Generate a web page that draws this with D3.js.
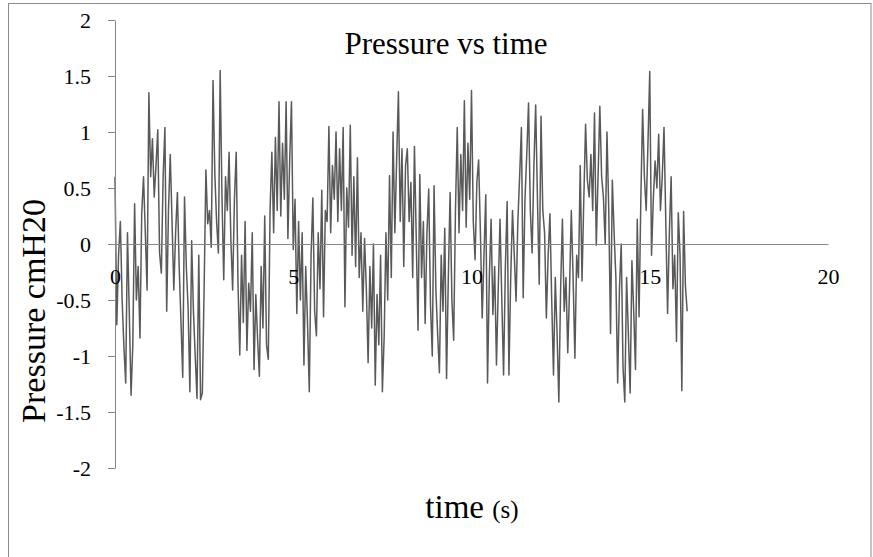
<!DOCTYPE html>
<html><head><meta charset="utf-8">
<script src="https://cdn.jsdelivr.net/npm/d3@7"></script>
<style>
body{margin:0;background:#fff}
svg{display:block}
text{font-family:"Liberation Serif","Times New Roman",Times,"DejaVu Serif",serif;fill:#000}
</style>
</head><body><svg id="c" width="873" height="557"></svg>
<script>
// sampling interval of the recording (s)
const SAMPLE_STEP = 0.05;
// pressure readings (cmH2O), one per sample, starting at t = 0
const pressure = [
  0.60,-0.72,-0.10,0.20,-0.50,-0.92,-1.24,0.10,-0.60,-1.35,-0.90,0.36,-0.50,-0.20,-0.84,0.28,0.60,0.10,-0.41,1.35,
  0.60,0.94,0.42,0.70,1.02,-0.08,-0.26,0.60,1.04,-0.60,0.30,0.80,0.20,-0.41,0.10,0.46,-0.20,-0.69,-1.19,0.42,
  -0.20,-0.56,-1.32,0.03,-0.60,-1.00,-1.38,-0.10,-1.39,-1.33,-0.40,0.66,0.18,0.30,-0.03,1.46,0.63,0.20,-0.08,1.55,
  0.43,-0.32,0.60,0.30,0.82,0.04,-0.41,0.40,0.82,-0.35,-0.99,-0.10,-0.70,0.20,-0.95,-0.35,-0.60,0.10,-1.12,-0.45,
  -0.85,-1.18,-0.20,-0.75,0.25,-0.90,-1.03,0.30,0.82,0.10,0.95,0.30,1.27,0.25,0.90,0.40,1.27,0.05,0.75,1.27,
  -0.05,0.40,-0.62,0.20,-0.50,0.10,-1.08,-0.20,-0.70,-1.32,-0.10,0.41,-0.60,-0.82,0.10,-0.40,0.48,-0.65,0.30,0.20,
  1.05,0.10,0.70,0.40,1.00,0.20,0.85,0.30,1.04,-0.56,0.50,0.15,1.06,-0.10,0.60,-0.20,0.77,-0.30,0.10,-0.60,
  0.05,-0.40,-1.06,-0.20,-0.75,0.00,-1.26,-0.45,-0.90,-0.10,-1.32,-0.83,0.10,-0.50,0.61,-0.30,1.00,0.10,0.75,1.36,
  0.20,0.85,-0.20,0.70,0.85,0.20,0.55,-0.30,0.87,0.05,-0.77,0.62,-0.30,0.20,-0.71,0.10,0.49,-0.55,-1.00,0.52,
  -0.40,-0.80,-1.15,-0.10,-0.60,0.14,-1.20,-0.30,0.46,-0.50,-0.86,0.30,1.04,0.10,0.80,0.30,1.28,0.15,0.90,0.40,
  1.37,0.20,-0.14,0.55,0.75,0.10,-0.66,-0.10,0.44,-1.24,-0.30,0.22,-0.63,-0.20,-1.08,-0.40,0.22,-0.50,-1.17,-0.20,
  0.38,-1.17,-0.30,0.30,-0.10,-0.51,0.20,0.60,1.04,-0.48,0.40,0.80,1.26,0.30,-0.08,0.70,1.24,0.40,-0.36,1.14,
  0.30,0.10,-0.66,-0.10,0.27,-0.50,-1.17,-0.30,-0.80,-1.41,-0.40,0.22,-0.60,-0.30,-0.97,-0.40,0.30,-0.30,-1.02,-0.10,
  -0.30,0.70,-0.33,0.40,1.07,0.57,0.42,0.80,0.30,1.17,-0.01,0.60,1.23,0.60,0.42,0.00,1.00,0.30,-0.80,0.57,
  0.10,-0.30,-1.24,-0.40,0.00,-1.10,-1.41,-0.30,-0.80,-1.33,-0.15,-0.60,-1.12,0.22,-0.65,0.40,1.20,0.60,0.30,0.90,
  1.54,-0.10,0.40,0.74,0.50,0.98,0.30,0.60,1.04,0.20,-0.62,0.10,0.60,-0.40,-0.10,-0.87,0.28,-0.10,-1.31,0.29,
  -0.37,-0.60
];
const xTickValues = [0, 5, 10, 15, 20];
const yTickValues = [-2, -1.5, -1, -0.5, 0, 0.5, 1, 1.5, 2];
const xDomain = [0, 20];
const yDomain = [-2, 2];
const chartTitle = "Pressure vs time";
const xTitle = "time";
const xUnit = "(s)";
const yTitle = "Pressure cmH20";

const svg = d3.select("#c");
const axisColor = "#868686";
const serif = '"Liberation Serif","Times New Roman",Times,"DejaVu Serif",serif';

// outer chart frame
svg.append("rect").attr("x", 8.5).attr("y", 3.5).attr("width", 862.5).attr("height", 600)
  .attr("fill", "none").attr("stroke", "#8c8c8c").attr("stroke-width", 1);

const x = d3.scaleLinear().domain(xDomain).range([115, 828]);
const y = d3.scaleLinear().domain(yDomain).range([468, 20]);

const points = pressure.map((v, i) => ({t: i * SAMPLE_STEP, p: v}));

svg.append("path").datum(points)
  .attr("fill", "none").attr("stroke", "#595959").attr("stroke-width", 1.5)
  .attr("stroke-linejoin", "round")
  .attr("d", d3.line().x(d => x(d.t)).y(d => y(d.p)));

// y axis
const yAxis = svg.append("g").attr("transform", `translate(${x(0)},0)`)
  .call(d3.axisLeft(y).tickValues(yTickValues).tickSize(7).tickSizeOuter(0)
    .tickPadding(17).tickFormat(d => String(d)));
yAxis.attr("font-family", serif);
yAxis.selectAll("path,line").attr("stroke", axisColor);
yAxis.selectAll("text").attr("font-size", 22).attr("fill", "#000");

// x axis through zero
const xAxis = svg.append("g").attr("transform", `translate(0,${y(0)})`)
  .call(d3.axisBottom(x).tickValues(xTickValues).tickSize(0).tickSizeOuter(0)
    .tickPadding(24).tickFormat(d => String(d)));
xAxis.attr("font-family", serif);
xAxis.selectAll("path,line").attr("stroke", axisColor);
xAxis.selectAll("text").attr("font-size", 22).attr("fill", "#000");

// titles
svg.append("text").attr("x", 446).attr("y", 54).attr("text-anchor", "middle")
  .attr("font-size", 31).text(chartTitle);

const xt = svg.append("text").attr("x", 472).attr("y", 518).attr("text-anchor", "middle");
xt.append("tspan").attr("font-size", 33).text(xTitle + " ");
xt.append("tspan").attr("font-size", 25).text(xUnit);

svg.append("text").attr("transform", "translate(45,311) rotate(-90)")
  .attr("text-anchor", "middle").attr("font-size", 34).text(yTitle);
</script>
</body></html>
